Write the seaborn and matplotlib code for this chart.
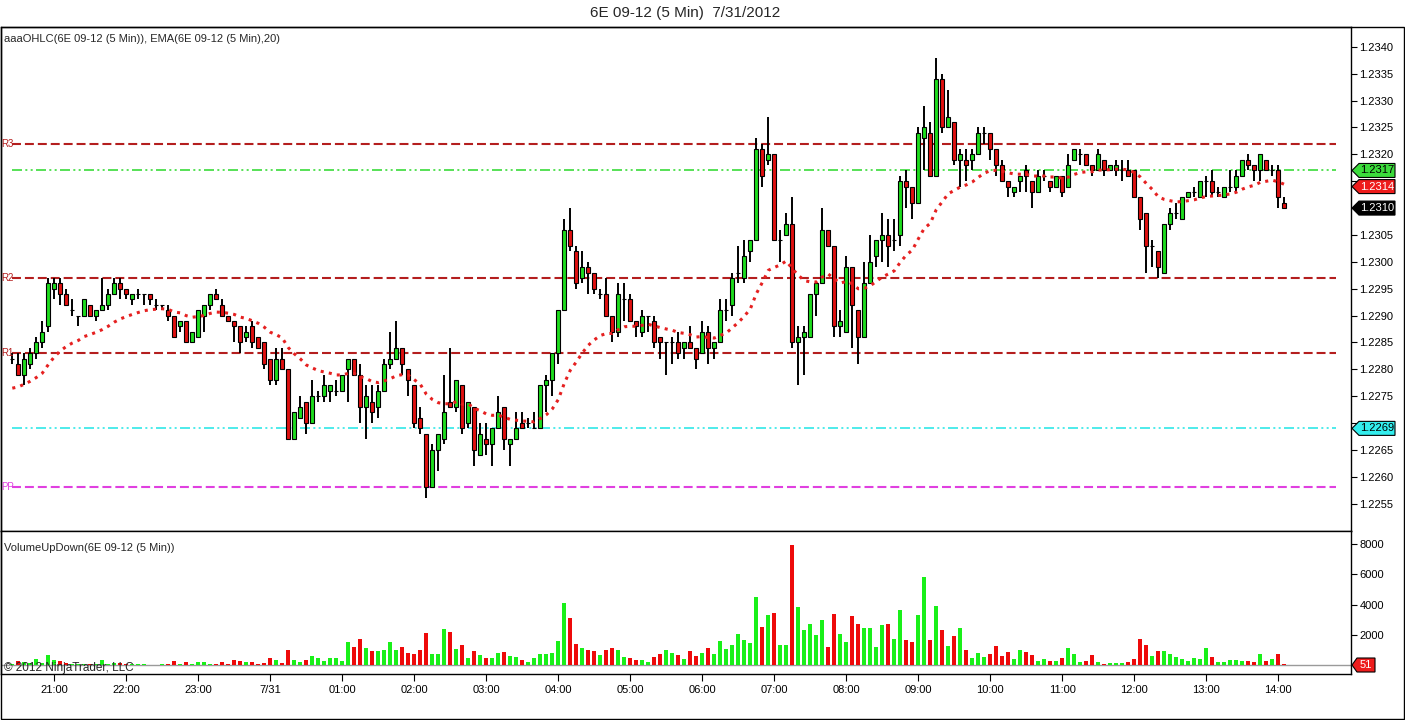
import numpy as np
import pandas as pd
import matplotlib
matplotlib.use('Agg')
import matplotlib.pyplot as plt
import matplotlib.transforms as mtransforms
from matplotlib.patches import Polygon, Rectangle
import seaborn as sns

# 6E 09-12, 5 minute bars from 20:25 (7/30) to 14:05 (7/31)
# prices are in pips above 1.2200
opens = [82, 81, 79, 81, 83, 85, 88, 95, 96, 94, 91, 90, 90, 92, 90, 91, 92, 94, 96, 95,
         93, 94, 94, 94, 92, 92, 91, 90, 88, 89, 85, 86, 90, 92, 94, 92, 90, 89, 88, 86,
         88, 86, 85, 82, 78, 82, 80, 67, 71, 74, 70, 75, 75, 76, 76, 76, 80, 82, 79, 73,
         74, 73, 76, 81, 82, 84, 80, 77, 71, 68, 58, 65, 67, 74, 73, 77, 70, 73, 64, 67,
         66, 69, 73, 66, 67, 70, 70, 69, 69, 77, 78, 83, 91, 106, 102, 97, 99, 98, 94, 94,
         90, 87, 93, 93, 89, 87, 90, 89, 86, 85, 85, 85, 84, 85, 84, 83, 87, 84, 85, 91,
         92, 98, 97, 102, 104, 121, 119, 120, 104, 105, 107, 85, 86, 86, 94, 96, 106, 103, 88, 87,
         99, 91, 86, 96, 101, 104, 105, 104, 105, 115, 114, 111, 123, 124, 116, 134, 125, 126, 119, 119,
         119, 120, 124, 124, 121, 118, 115, 113, 115, 117, 115, 113, 116, 115, 114, 116, 114, 119, 120, 120,
         118, 117, 119, 117, 117, 117, 117, 117, 112, 109, 103, 102, 98, 107, 109, 108, 112, 113, 112, 115,
         115, 113, 112, 114, 114, 116, 119, 118, 117, 119, 117, 117, 111]
highs = [83, 83, 83, 84, 86, 89, 97, 97, 97, 95, 93, 90, 93, 92, 91, 97, 95, 97, 97, 95,
         94, 95, 94, 94, 93, 92, 92, 90, 89, 89, 87, 91, 92, 94, 95, 93, 90, 89, 88, 88,
         89, 86, 85, 82, 84, 84, 80, 72, 75, 74, 78, 76, 79, 77, 78, 79, 82, 82, 81, 77,
         77, 77, 82, 87, 89, 84, 80, 77, 73, 68, 66, 68, 79, 84, 78, 77, 74, 73, 70, 70,
         69, 75, 73, 67, 72, 72, 71, 72, 77, 79, 83, 91, 108, 110, 103, 102, 100, 98, 95, 97,
         90, 96, 96, 94, 89, 91, 90, 90, 86, 85, 86, 87, 85, 88, 84, 89, 88, 85, 93, 93,
         98, 103, 104, 104, 123, 122, 127, 120, 106, 109, 112, 88, 88, 94, 96, 110, 106, 103, 91, 101,
         99, 91, 100, 105, 104, 109, 108, 108, 116, 117, 114, 125, 129, 126, 138, 135, 132, 126, 121, 121,
         121, 125, 125, 124, 121, 119, 115, 114, 116, 118, 115, 117, 117, 115, 116, 116, 120, 121, 121, 120,
         118, 121, 119, 118, 119, 119, 119, 117, 112, 109, 104, 102, 107, 110, 111, 112, 113, 114, 115, 116,
         117, 114, 114, 117, 117, 119, 120, 118, 120, 119, 118, 118, 112]
lows = [81, 79, 77, 80, 82, 84, 87, 93, 92, 92, 90, 88, 90, 90, 89, 91, 91, 94, 93, 93,
        92, 93, 92, 92, 91, 91, 89, 86, 87, 85, 85, 86, 87, 91, 93, 90, 89, 85, 83, 85,
        84, 84, 80, 77, 77, 80, 67, 67, 71, 68, 70, 74, 74, 74, 75, 76, 74, 79, 70, 67,
        70, 71, 76, 80, 82, 79, 75, 69, 68, 56, 58, 61, 66, 73, 72, 68, 69, 62, 64, 64,
        62, 69, 65, 62, 67, 69, 69, 69, 69, 72, 75, 81, 91, 102, 95, 96, 94, 94, 93, 90,
        85, 86, 89, 89, 86, 86, 87, 84, 82, 79, 81, 82, 82, 84, 80, 83, 81, 82, 85, 89,
        90, 96, 96, 100, 104, 114, 118, 104, 100, 105, 84, 77, 79, 86, 90, 96, 103, 86, 86, 87,
        84, 81, 86, 96, 99, 100, 99, 102, 103, 110, 108, 111, 117, 116, 116, 124, 125, 118, 114, 115,
        117, 120, 122, 119, 116, 115, 112, 112, 113, 113, 110, 113, 115, 113, 114, 112, 114, 119, 118, 118,
        116, 117, 116, 117, 116, 115, 116, 112, 106, 98, 99, 97, 98, 106, 108, 108, 112, 112, 112, 112,
        112, 112, 112, 113, 113, 116, 117, 115, 115, 117, 116, 110, 110]
closes = [82, 79, 82, 83, 85, 87, 96, 96, 94, 92, 91, 90, 93, 90, 91, 92, 94, 96, 95, 94,
          94, 94, 94, 93, 92, 92, 90, 86, 89, 85, 87, 91, 92, 94, 93, 90, 89, 88, 85, 87,
          85, 84, 81, 78, 82, 80, 67, 72, 73, 70, 75, 75, 77, 77, 76, 79, 82, 79, 73, 75,
          72, 76, 81, 82, 84, 81, 78, 70, 69, 58, 65, 68, 72, 73, 78, 69, 74, 65, 68, 66,
          69, 72, 67, 67, 69, 69, 70, 69, 77, 78, 83, 91, 106, 103, 96, 99, 98, 95, 94, 90,
          87, 94, 93, 89, 88, 90, 90, 85, 85, 85, 85, 83, 85, 84, 82, 87, 84, 85, 91, 91,
          97, 98, 101, 104, 121, 116, 120, 104, 104, 107, 85, 86, 87, 94, 96, 106, 103, 88, 89, 99,
          92, 86, 96, 100, 104, 105, 103, 104, 115, 114, 111, 124, 125, 116, 134, 125, 127, 119, 120, 118,
          120, 124, 124, 121, 118, 115, 114, 114, 116, 116, 113, 116, 116, 114, 116, 113, 118, 121, 120, 118,
          117, 120, 117, 118, 118, 117, 116, 112, 108, 103, 103, 99, 107, 109, 109, 112, 113, 113, 115, 115,
          113, 113, 114, 114, 116, 119, 118, 117, 120, 117, 117, 112, 110]
volumes = [60, 265, 177, 155, 400, 130, 660, 330, 265, 155, 66, 66, 66, 66, 40, 330, 40, 130, 130, 44,
           44, 44, 44, 20, 20, 44, 44, 265, 44, 200, 88, 200, 200, 44, 44, 200, 88, 330, 265, 200,
           200, 88, 130, 440, 330, 130, 995, 330, 200, 330, 600, 465, 265, 440, 440, 265, 1525, 1190, 1720, 1100,
           930, 930, 995, 1525, 995, 1190, 800, 730, 995, 2120, 730, 730, 2390, 2190, 1060, 1330, 465, 930, 660, 465,
           465, 800, 860, 600, 530, 330, 200, 440, 730, 730, 800, 1590, 4090, 3090, 1390, 1100, 995, 930, 660, 995,
           1100, 995, 530, 465, 330, 330, 177, 508, 730, 995, 796, 663, 398, 928, 597, 796, 1127, 730, 1591, 1061,
           1326, 2055, 1657, 1459, 4508, 2519, 3315, 3448, 1326, 1326, 7950, 3845, 2320, 2718, 1989, 2983, 1193, 3381, 2055, 1525,
           3249, 2718, 2453, 2453, 1193, 2652, 2718, 1724, 3647, 1657, 1525, 3315, 5857, 1657, 3912, 2320, 1260, 1923, 2453, 995,
           464, 796, 530, 730, 1260, 597, 862, 398, 995, 862, 663, 265, 398, 265, 265, 464, 1127, 730, 199, 265,
           663, 199, 66, 133, 133, 133, 199, 398, 1724, 1326, 600, 900, 900, 700, 500, 400, 250, 450, 400, 1100,
           550, 200, 200, 300, 300, 250, 250, 200, 700, 250, 400, 700, 51]
ema_seed = 75.9  # EMA(20) just before the first bar, pips

# pivot levels and the two tagged levels
levels = {'R3': 1.2322, 'R2': 1.2297, 'R1': 1.2283, 'PP': 1.2258}
green_level = 1.2317
cyan_level = 1.2269

time_labels = ['21:00', '22:00', '23:00', '7/31', '01:00', '02:00', '03:00', '04:00', '05:00',
               '06:00', '07:00', '08:00', '09:00', '10:00', '11:00', '12:00', '13:00', '14:00']
first_tick_bar = 7  # 21:00 bar
price_ticks = [1.2255, 1.2260, 1.2265, 1.2270, 1.2275, 1.2280, 1.2285, 1.2290, 1.2295, 1.2300,
               1.2305, 1.2310, 1.2315, 1.2320, 1.2325, 1.2330, 1.2335, 1.2340]
hidden_ticks = [1.2270, 1.2310, 1.2315]  # covered by the price tags
volume_ticks = [2000, 4000, 6000, 8000]

# --- build frame ---
df = pd.DataFrame({'open': opens, 'high': highs, 'low': lows, 'close': closes, 'volume': volumes})
for col in ['open', 'high', 'low', 'close']:
    df[col] = 1.22 + df[col] / 10000.0
df['bar'] = np.arange(len(df))
df['dir'] = np.where(df['close'] >= df['open'], 'up', 'down')
ema_pips = pd.Series([ema_seed] + closes).ewm(span=20, adjust=False).mean().iloc[1:].values
df['ema'] = 1.22 + ema_pips / 10000.0

GREEN = '#1EDC1E'
RED = '#E01010'
VGREEN = '#19F019'
VRED = '#EE0A0A'
DKRED = '#B41E1E'

sns.set_style('white')
plt.rcParams['font.family'] = ['Liberation Sans', 'DejaVu Sans']

W, H = 1405, 720
fig = plt.figure(figsize=(W / 100, H / 100), dpi=100)


def box(x0, y0, x1, y1):
    return [x0 / W, 1 - y1 / H, (x1 - x0) / W, (y1 - y0) / H]


axp = fig.add_axes(box(1, 27, 1351, 531))
axv = fig.add_axes(box(1, 531, 1351, 674))
xlim = ((1 - 12.3) / 6, (1351 - 12.3) / 6)

# --- price panel ---
axp.vlines(df['bar'], df['low'], df['high'], color='black', lw=1.4, zorder=2)
body_lo = np.minimum(df['open'], df['close'])
body_h = (df['close'] - df['open']).abs()
axp.bar(df['bar'], body_h, bottom=body_lo, width=0.72,
        color=np.where(df['dir'] == 'up', GREEN, RED), edgecolor='black', linewidth=0.8, zorder=3)

sns.lineplot(x=df['bar'], y=df['ema'], ax=axp, color='#E52020', lw=2.2,
             linestyle=(0, (1, 1.7)), zorder=4)

x0l, x1l = -0.1, 220.6
for name, lev in levels.items():
    col = '#E040E0' if name == 'PP' else DKRED
    axp.hlines(lev, x0l, x1l, color=col, lw=1.5, linestyles=[(0, (4.3, 1.9))], zorder=1)
    axp.text(-1.8, lev, name, color=col, fontsize=7, ha='left', va='center', zorder=5)
axp.hlines(green_level, x0l, x1l, color='#3ADC3A', lw=1.2, linestyles=[(0, (6, 2, 1.2, 2, 1.2, 2))], zorder=1)
axp.hlines(cyan_level, x0l, x1l, color='#30E8E8', lw=1.2, linestyles=[(0, (6, 2, 1.2, 2, 1.2, 2))], zorder=1)

axp.set_xlim(*xlim)
axp.set_ylim(1.22499, 1.23437)
axp.yaxis.tick_right()
axp.set_yticks(price_ticks)
axp.set_yticklabels(['' if t in hidden_ticks else '%.4f' % t for t in price_ticks])
axp.set_xticks([])
axp.tick_params(axis='y', direction='out', length=4, width=0.8, labelsize=8, pad=2, colors='black', right=True)
axp.set_xlabel('')
axp.set_ylabel('')
for s in axp.spines.values():
    s.set_color('black')
    s.set_linewidth(1)
axp.text(0.002, 0.976, 'aaaOHLC(6E 09-12 (5 Min)), EMA(6E 09-12 (5 Min),20)', transform=axp.transAxes,
         fontsize=8, ha='left', va='center')

# price tags on the right axis
tagtr = mtransforms.blended_transform_factory(fig.transFigure, axp.transData)
half = 7 / 5.373 / 10000


def price_tag(price, text, fc, tc):
    pts = [(1352 / W, price), (1359 / W, price + half), (1395 / W, price + half),
           (1395 / W, price - half), (1359 / W, price - half)]
    axp.add_patch(Polygon(pts, closed=True, transform=tagtr, fc=fc, ec='black', lw=0.8,
                          clip_on=False, zorder=10))
    axp.text(1377.5 / W, price, text, transform=tagtr, color=tc, fontsize=8, ha='center', va='center',
             clip_on=False, zorder=11)


ema_last = round(df['ema'].iloc[-1], 4)
price_tag(green_level, '%.4f' % green_level, '#3CDC3C', 'black')
price_tag(ema_last, '%.4f' % ema_last, '#EE1C1C', 'white')
price_tag(df['close'].iloc[-1], '%.4f' % df['close'].iloc[-1], 'black', 'white')
price_tag(cyan_level, '%.4f' % cyan_level, '#33EEEE', 'black')

# --- volume panel ---
sns.barplot(data=df, x='bar', y='volume', hue='dir', palette={'up': VGREEN, 'down': VRED},
            native_scale=True, dodge=False, width=0.7, errorbar=None, legend=False,
            saturation=1, linewidth=0, ax=axv)
axv.axhline(0, color='#9A9A9A', lw=1, zorder=0)
axv.set_xlim(*xlim)
axv.set_ylim(-596, 8881)
axv.yaxis.tick_right()
axv.set_yticks(volume_ticks)
axv.set_yticklabels([str(v) for v in volume_ticks])
tick_pos = [first_tick_bar + 12 * k for k in range(len(time_labels))]
axv.set_xticks(tick_pos)
axv.set_xticklabels(time_labels)
axv.tick_params(axis='y', direction='out', length=4, width=0.8, labelsize=8, pad=2, colors='black', right=True)
axv.tick_params(axis='x', direction='out', length=5, width=0.8, labelsize=8, pad=3, colors='black', bottom=True)
axv.set_xlabel('')
axv.set_ylabel('')
for s in axv.spines.values():
    s.set_color('black')
    s.set_linewidth(1)
axv.text(0.002, 0.88, 'VolumeUpDown(6E 09-12 (5 Min))', transform=axv.transAxes, fontsize=8,
         ha='left', va='center')
axv.text(0.002, 0.045, '\u00a9 2012 NinjaTrader, LLC', transform=axv.transAxes, fontsize=8.5,
         ha='left', va='center', zorder=5)

vtr = mtransforms.blended_transform_factory(fig.transFigure, axv.transData)
vhalf = 7 / 15.09 * 1000
vpts = [(1352 / W, 0), (1357 / W, vhalf), (1375 / W, vhalf), (1375 / W, -vhalf), (1357 / W, -vhalf)]
axv.add_patch(Polygon(vpts, closed=True, transform=vtr, fc='#EE1C1C', ec='black', lw=0.8,
                      clip_on=False, zorder=10))
axv.text(1366 / W, 0, str(volumes[-1]), transform=vtr, color='white', fontsize=8, ha='center',
         va='center', clip_on=False, zorder=11)

# title and outer frame
fig.text(685 / W, 1 - 13 / H, '6E 09-12 (5 Min)  7/31/2012', ha='center', va='center', fontsize=11)
fig.add_artist(Rectangle((1 / W, 1 / H), 1403 / W, (719 - 27) / H, transform=fig.transFigure,
                         fill=False, ec='black', lw=1))

fig.savefig('out.png', dpi=100, facecolor='white')
